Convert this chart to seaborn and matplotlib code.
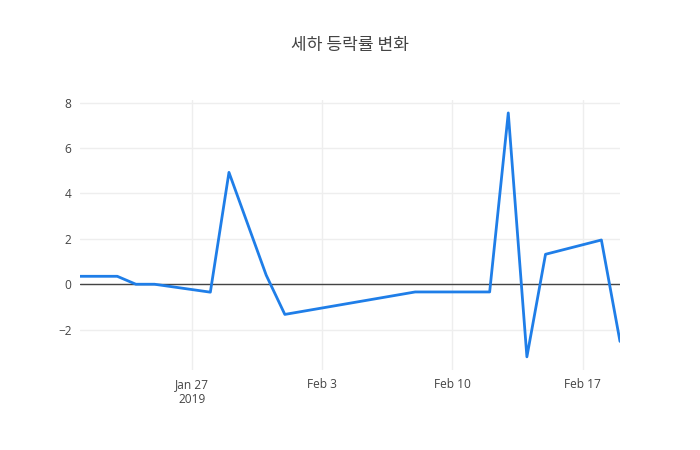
import pandas as pd
import matplotlib
matplotlib.use('Agg')
import matplotlib.pyplot as plt
import matplotlib.dates as mdates
import seaborn as sns

# 데이터
dates = ['2019-01-21', '2019-01-23', '2019-01-24', '2019-01-25', '2019-01-28',
         '2019-01-29', '2019-01-31', '2019-02-01', '2019-02-08', '2019-02-12',
         '2019-02-13', '2019-02-14', '2019-02-15', '2019-02-18', '2019-02-19']
changes = [0.35, 0.35, 0.0, 0.0, -0.35,
           4.93, 0.40, -1.33, -0.34, -0.34,
           7.55, -3.20, 1.32, 1.95, -2.52]
tick_dates = ['2019-01-27', '2019-02-03', '2019-02-10', '2019-02-17']
tick_labels = ['Jan 27\n2019', 'Feb 3', 'Feb 10', 'Feb 17']
y_ticks = [-2, 0, 2, 4, 6, 8]

df = pd.DataFrame({'date': pd.to_datetime(dates), 'change': changes})

sns.set_style('white')
plt.rcParams['font.family'] = ['Open Sans', 'Noto Sans CJK KR', 'DejaVu Sans']

fig = plt.figure(figsize=(7, 4.5), dpi=100)
ax = fig.add_axes([80 / 700, 80 / 450, 540 / 700, 270 / 450])

sns.lineplot(x='date', y='change', data=df, color='#1f7ee8', linewidth=2, ax=ax, zorder=3)

ax.set_xlim(pd.Timestamp('2019-01-21'), pd.Timestamp('2019-02-19'))
ax.set_ylim(-3.78, 8.12)

ax.set_xticks(pd.to_datetime(tick_dates))
ax.set_xticklabels(tick_labels)
ax.set_yticks(y_ticks)
ax.set_yticklabels([f'{v}'.replace('-', '\u2212') for v in y_ticks])

ax.grid(True, color='#eeeeee', linewidth=1)
ax.axhline(0, color='#444444', linewidth=1, zorder=2)
for s in ax.spines.values():
    s.set_visible(False)
ax.tick_params(axis='both', length=0, labelsize=8.6, colors='#444444', pad=6)
ax.set_xlabel('')
ax.set_ylabel('')

fig.suptitle('세하 등락률 변화', x=0.5, y=1 - 45 / 450, va='center',
             fontsize=12.3, color='#444444', family=['Noto Sans CJK KR', 'DejaVu Sans'])

fig.savefig('out.png', dpi=100)
